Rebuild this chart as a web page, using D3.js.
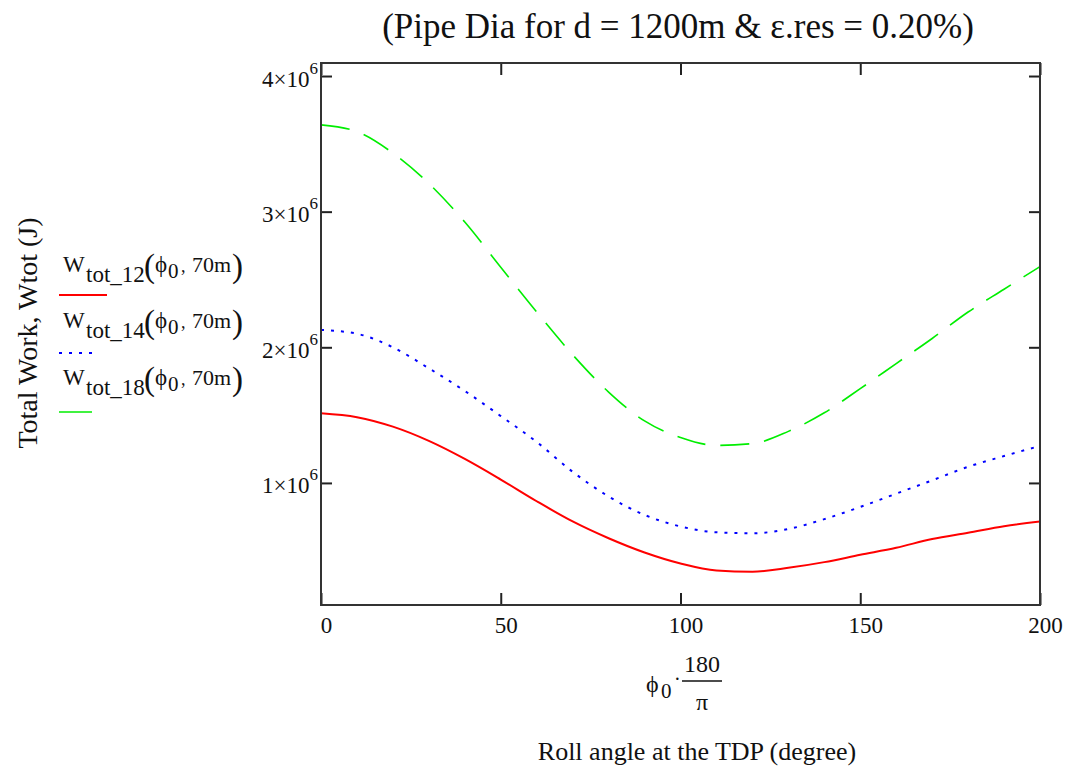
<!DOCTYPE html>
<html>
<head>
<meta charset="utf-8">
<script src="https://cdn.jsdelivr.net/npm/d3@7"></script>
<style>
  body { margin: 0; background: #fff; }
  svg { display: block; }
  text { font-family: "Liberation Serif", "Times New Roman", serif; fill: #111; }
</style>
</head>
<body>
<svg id="chart" width="1069" height="771"></svg>
<script>
// Roll angle at the touchdown point (degrees)
const rollAngleDeg = [0, 10, 20, 30, 40, 50, 60, 70, 80, 90, 100, 110, 120, 130, 140, 150, 160, 170, 180, 190, 200];

// Total work (J) for the three pipe sizes
const wTot12 = [1.514e6, 1.485e6, 1.415e6, 1.310e6, 1.177e6, 1.025e6, 0.865e6, 0.716e6, 0.592e6, 0.487e6, 0.406e6,
                0.355e6, 0.346e6, 0.374e6, 0.416e6, 0.470e6, 0.522e6, 0.587e6, 0.633e6, 0.681e6, 0.715e6];
const wTot14 = [2.128e6, 2.100e6, 2.000e6, 1.845e6, 1.678e6, 1.493e6, 1.302e6, 1.082e6, 0.900e6, 0.764e6, 0.679e6,
                0.636e6, 0.629e6, 0.660e6, 0.733e6, 0.823e6, 0.921e6, 1.019e6, 1.119e6, 1.198e6, 1.273e6];
const wTot18 = [3.640e6, 3.590e6, 3.432e6, 3.208e6, 2.923e6, 2.590e6, 2.260e6, 1.945e6, 1.670e6, 1.457e6, 1.335e6,
                1.277e6, 1.290e6, 1.380e6, 1.517e6, 1.695e6, 1.880e6, 2.065e6, 2.260e6, 2.428e6, 2.595e6];

const seriesSubscripts = ["tot_12", "tot_14", "tot_18"];
const seriesColors = ["#ff0000", "#0000ff", "#00ee00"];
const xTickValues = [0, 50, 100, 150, 200];
const yTickValues = [1e6, 2e6, 3e6, 4e6];

const titleText = "(Pipe Dia for d = 1200m & \u03B5.res = 0.20%)";
const yLabelText = "Total Work, Wtot (J)";
const xLabelText = "Roll angle at the TDP (degree)";

const svg = d3.select("#chart");

const plot = { left: 321, right: 1040, top: 63, bottom: 605 };

const x = d3.scaleLinear().domain([0, 200]).range([plot.left, plot.right]);
const y = d3.scaleLinear().domain([0.1e6, 4.096e6]).range([plot.bottom, plot.top]);

// Series lines
const seriesValues = [wTot12, wTot14, wTot18];
const lineStyles = [
  { width: 2, dash: null },
  { width: 2, dash: "3,7" },
  { width: 1.6, dash: "29,15" }
];

const line = d3.line()
  .x(d => x(d[0]))
  .y(d => y(d[1]))
  .curve(d3.curveMonotoneX);

svg.append("clipPath").attr("id", "plotClip")
  .append("rect")
  .attr("x", plot.left).attr("y", plot.top)
  .attr("width", plot.right - plot.left).attr("height", plot.bottom - plot.top);

const lines = svg.append("g").attr("clip-path", "url(#plotClip)");
seriesValues.forEach((vals, i) => {
  lines.append("path")
    .datum(rollAngleDeg.map((a, j) => [a, vals[j]]))
    .attr("fill", "none")
    .attr("stroke", seriesColors[i])
    .attr("stroke-width", lineStyles[i].width)
    .attr("stroke-dasharray", lineStyles[i].dash)
    .attr("d", line);
});

// Axes with inward ticks on all four sides
function styleAxis(g) {
  g.select(".domain").remove();
  g.selectAll(".tick line").attr("stroke", "#222").attr("stroke-width", 2);
}

const bottomAxis = svg.append("g")
  .attr("transform", `translate(0,${plot.bottom})`)
  .call(d3.axisBottom(x).tickValues(xTickValues).tickSizeInner(-12).tickSizeOuter(0).tickFormat(d3.format("d")))
  .call(styleAxis);
bottomAxis.selectAll(".tick text")
  .attr("y", 28).attr("dy", 0).attr("dx", 5)
  .style("font-size", "23px").style("font-family", "Liberation Serif").attr("fill", "#111");

svg.append("g")
  .attr("transform", `translate(0,${plot.top})`)
  .call(d3.axisTop(x).tickValues(xTickValues).tickSizeInner(-12).tickSizeOuter(0).tickFormat(""))
  .call(styleAxis);

const leftAxis = svg.append("g")
  .attr("transform", `translate(${plot.left},0)`)
  .call(d3.axisLeft(y).tickValues(yTickValues).tickSizeInner(-11).tickSizeOuter(0))
  .call(styleAxis);
leftAxis.selectAll(".tick text").each(function (d) {
  const t = d3.select(this);
  t.text(null)
    .attr("x", -3).attr("y", 10).attr("dy", 0)
    .attr("text-anchor", "end")
    .style("font-size", "23px").style("font-family", "Liberation Serif").attr("fill", "#111");
  t.append("tspan").text(`${Math.round(d / 1e6)}\u00D710`);
  t.append("tspan").attr("dy", -13).style("font-size", "17px").text("6");
});

svg.append("g")
  .attr("transform", `translate(${plot.right},0)`)
  .call(d3.axisRight(y).tickValues(yTickValues).tickSizeInner(-11).tickSizeOuter(0).tickFormat(""))
  .call(styleAxis);

// Frame
svg.append("rect")
  .attr("x", plot.left).attr("y", plot.top)
  .attr("width", plot.right - plot.left).attr("height", plot.bottom - plot.top)
  .attr("fill", "none").attr("stroke", "#333").attr("stroke-width", 2);

// Title
svg.append("text")
  .attr("x", 678).attr("y", 38)
  .attr("text-anchor", "middle")
  .style("font-size", "35px")
  .text(titleText);

// Y axis label
svg.append("text")
  .attr("transform", "translate(37,333) rotate(-90)")
  .attr("text-anchor", "middle")
  .style("font-size", "28px")
  .text(yLabelText);

// X axis expression: phi0 * 180 / pi
const expr = svg.append("g");
expr.append("text").attr("x", 646).attr("y", 692).style("font-size", "24px").text("\u03D5");
expr.append("text").attr("x", 661).attr("y", 698).style("font-size", "21px").text("0");
expr.append("text").attr("x", 674).attr("y", 686).style("font-size", "20px").text("\u00B7");
expr.append("text").attr("x", 702).attr("y", 672).attr("text-anchor", "middle").style("font-size", "24px").text("180");
expr.append("line").attr("x1", 682).attr("x2", 722).attr("y1", 681).attr("y2", 681)
  .attr("stroke", "#111").attr("stroke-width", 1.5);
expr.append("text").attr("x", 702).attr("y", 710).attr("text-anchor", "middle").style("font-size", "24px").text("\u03C0");

// X axis label
svg.append("text")
  .attr("x", 697).attr("y", 760)
  .attr("text-anchor", "middle")
  .style("font-size", "26px")
  .text(xLabelText);

// Legend
const legendRowBaseline = [272, 328, 385];
const legendSample = [
  { x1: 59, x2: 107, dy: 23 },
  { x1: 59, x2: 98, dy: 25 },
  { x1: 59, x2: 92, dy: 27 }
];
seriesSubscripts.forEach((sub, i) => {
  const b = legendRowBaseline[i];
  const g = svg.append("g");
  g.append("text").attr("x", 63).attr("y", b).style("font-size", "23px").text("W");
  g.append("text").attr("x", 86).attr("y", b + 10).style("font-size", "23px").text(sub);
  g.append("text").attr("x", 144).attr("y", b + 5).style("font-size", "33px").attr("fill", "#444").text("(");
  g.append("text").attr("x", 155).attr("y", b).style("font-size", "23px").text("\u03D5");
  g.append("text").attr("x", 168).attr("y", b + 6).style("font-size", "21px").text("0");
  g.append("text").attr("x", 181).attr("y", b).style("font-size", "18px").text(",");
  g.append("text").attr("x", 192).attr("y", b).style("font-size", "22px").text("70m");
  g.append("text").attr("x", 232).attr("y", b + 5).style("font-size", "33px").attr("fill", "#444").text(")");
  g.append("line")
    .attr("x1", legendSample[i].x1).attr("x2", legendSample[i].x2)
    .attr("y1", b + legendSample[i].dy).attr("y2", b + legendSample[i].dy)
    .attr("stroke", seriesColors[i])
    .attr("stroke-width", lineStyles[i].width)
    .attr("stroke-dasharray", i === 1 ? "3,7" : null);
});
</script>
</body>
</html>
